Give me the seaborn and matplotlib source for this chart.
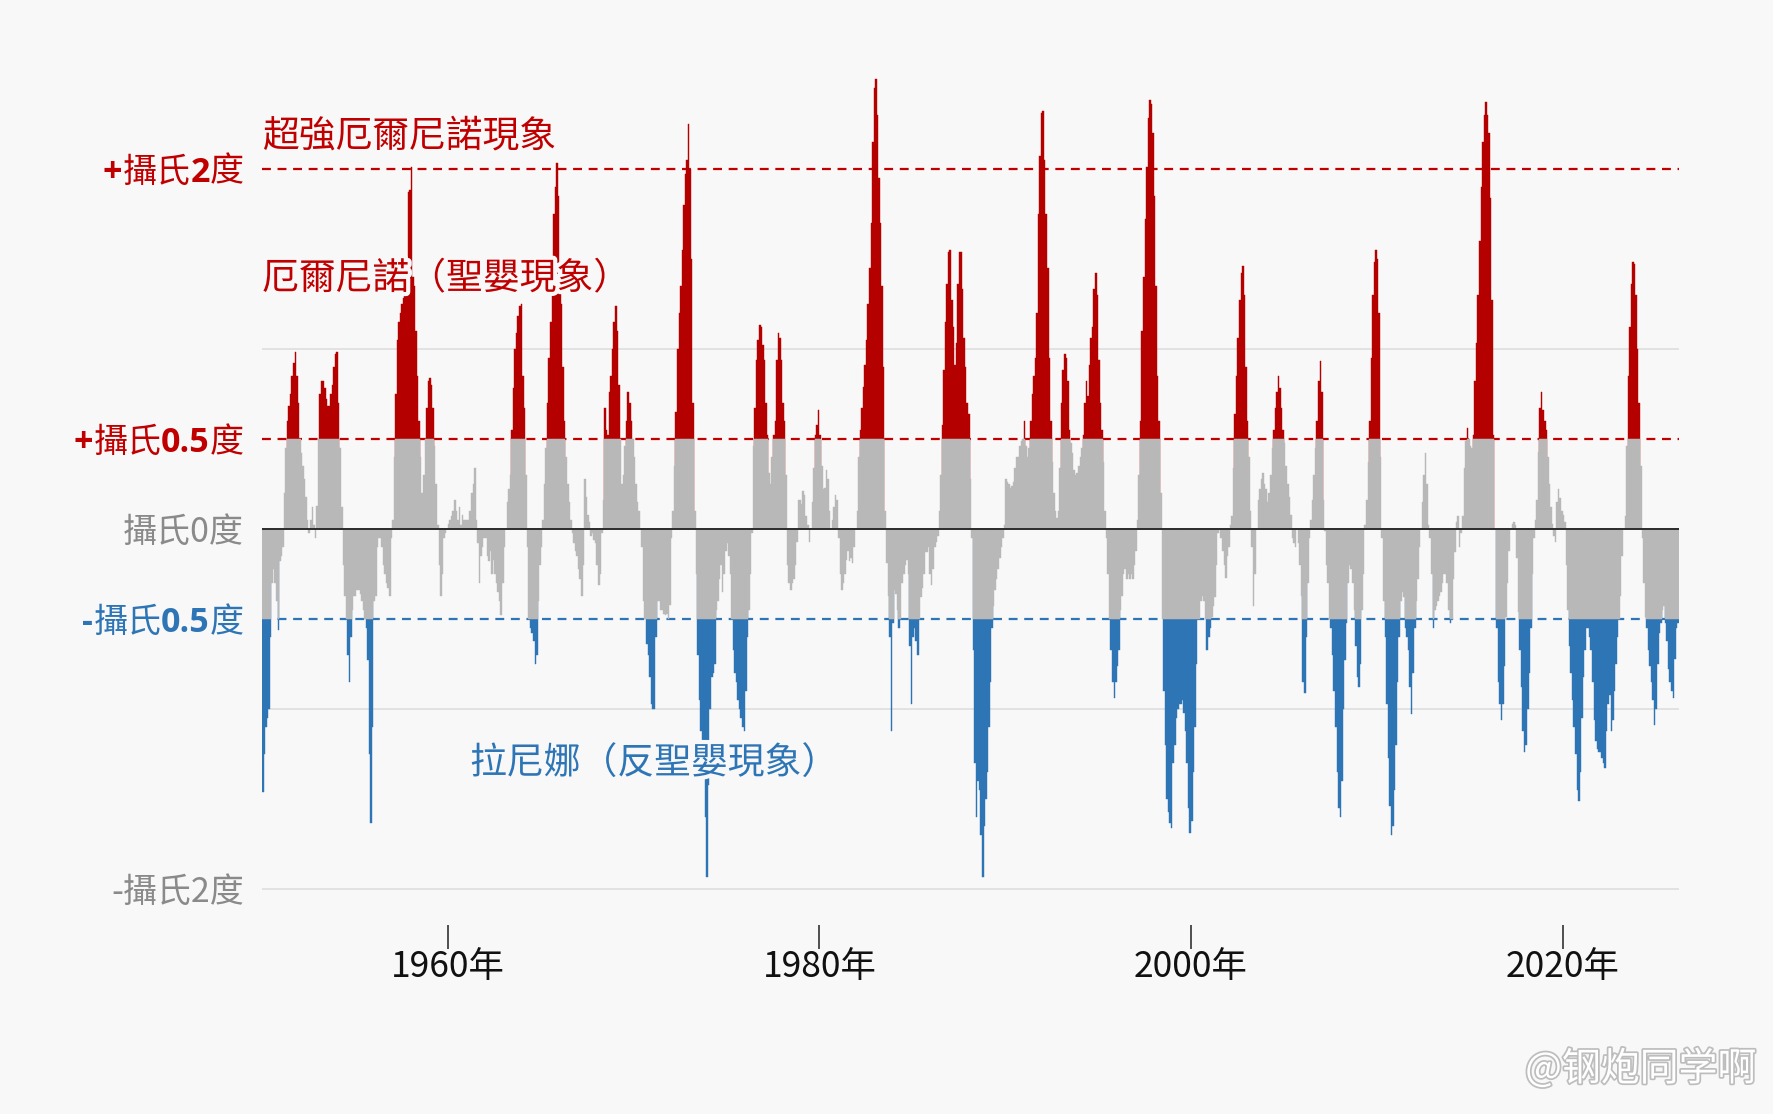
import numpy as np
import pandas as pd
import matplotlib
matplotlib.use("Agg")
import matplotlib.pyplot as plt
import matplotlib.patheffects as pe
import matplotlib.transforms as mtransforms
from matplotlib.offsetbox import TextArea, HPacker, AnnotationBbox
import seaborn as sns

# Monthly Nino 3.4 anomaly (deg C), Jan 1950 .. Mar 2026
start_year = 1950

oni_1950s = [
    -1.46, -1.25, -1.10, -1.05, -1.00, -0.60, -0.30, -0.22, -0.30, -0.40, -0.56, -0.18,  # 1950
    -0.15, -0.10, 0.20, 0.45, 0.60, 0.68, 0.75, 0.85, 0.92, 0.98, 0.85, 0.70,  # 1951
    0.50, 0.42, 0.35, 0.28, 0.18, 0.05, -0.02, 0.05, 0.12, 0.02, -0.05, 0.13,  # 1952
    0.50, 0.75, 0.82, 0.82, 0.78, 0.72, 0.68, 0.68, 0.75, 0.80, 0.90, 0.97,  # 1953
    0.98, 0.70, 0.45, 0.12, -0.20, -0.37, -0.50, -0.70, -0.85, -0.60, -0.45, -0.37,  # 1954
    -0.37, -0.34, -0.34, -0.36, -0.40, -0.45, -0.50, -0.55, -0.73, -1.25, -1.63, -1.10,  # 1955
    -0.40, -0.37, -0.10, -0.05, -0.05, -0.10, -0.20, -0.25, -0.30, -0.33, -0.37, -0.05,  # 1956
    0.05, 0.40, 0.75, 1.05, 1.15, 1.20, 1.25, 1.28, 1.36, 1.42, 1.87, 1.88,  # 1957
    2.01, 1.40, 1.35, 1.10, 0.85, 0.60, 0.40, 0.20, 0.30, 0.50, 0.67, 0.82,  # 1958
    0.84, 0.80, 0.67, 0.46, 0.25, 0.02, -0.20, -0.37, -0.25, -0.05, -0.02, 0.00,  # 1959
]

oni_1960s = [
    0.03, 0.05, 0.07, 0.10, 0.16, 0.10, 0.05, 0.12, 0.02, 0.08, 0.05, 0.05,  # 1960
    0.05, 0.05, 0.10, 0.20, 0.25, 0.34, 0.05, -0.08, -0.30, -0.15, -0.10, -0.05,  # 1961
    -0.05, -0.15, -0.18, -0.12, -0.25, -0.17, -0.25, -0.30, -0.35, -0.40, -0.48, -0.30,  # 1962
    -0.10, 0.00, 0.15, 0.22, 0.30, 0.55, 0.78, 1.00, 1.09, 1.18, 1.24, 1.25,  # 1963
    0.85, 0.67, 0.30, -0.10, -0.50, -0.55, -0.58, -0.62, -0.75, -0.70, -0.40, -0.20,  # 1964
    -0.10, 0.05, 0.25, 0.45, 0.70, 0.95, 1.15, 1.45, 1.75, 1.90, 2.03, 1.85,  # 1965
    1.35, 1.25, 0.90, 0.60, 0.40, 0.25, 0.15, 0.05, -0.02, -0.08, -0.12, -0.15,  # 1966
    -0.22, -0.28, -0.37, -0.20, 0.28, 0.18, 0.08, 0.04, -0.04, -0.02, -0.06, -0.08,  # 1967
    -0.20, -0.31, -0.25, -0.02, 0.16, 0.67, 0.55, 0.52, 0.76, 0.85, 1.00, 1.15,  # 1968
    1.24, 1.10, 0.80, 0.50, 0.25, 0.30, 0.46, 0.60, 0.76, 0.70, 0.60, 0.50,  # 1969
]

oni_1970s = [
    0.40, 0.25, 0.15, 0.10, 0.00, -0.10, -0.40, -0.50, -0.64, -0.70, -0.82, -0.97,  # 1970
    -1.00, -1.00, -0.60, -0.40, -0.40, -0.45, -0.45, -0.47, -0.48, -0.47, -0.50, -0.42,  # 1971
    -0.05, 0.10, 0.35, 0.65, 1.00, 1.20, 1.35, 1.55, 1.80, 1.97, 2.05, 2.25,  # 1972
    2.00, 1.50, 0.70, 0.10, -0.25, -0.70, -0.95, -1.12, -1.20, -1.30, -1.60, -1.93,  # 1973
    -1.42, -1.00, -0.82, -0.80, -0.75, -0.45, -0.40, -0.28, -0.20, -0.35, -0.25, -0.12,  # 1974
    -0.08, -0.15, -0.25, -0.50, -0.67, -0.80, -0.85, -0.95, -1.00, -1.05, -1.10, -1.12,  # 1975
    -0.90, -0.60, -0.45, -0.25, -0.02, 0.46, 0.67, 0.94, 1.05, 1.13, 1.12, 1.02,  # 1976
    0.94, 0.70, 0.52, 0.31, 0.25, 0.40, 0.52, 0.60, 0.94, 1.09, 1.06, 0.94,  # 1977
    0.70, 0.60, 0.30, -0.20, -0.30, -0.34, -0.30, -0.28, -0.20, -0.07, 0.16, 0.16,  # 1978
    0.14, 0.21, 0.19, 0.07, 0.02, -0.07, 0.00, 0.15, 0.34, 0.52, 0.58, 0.66,  # 1979
]

oni_1980s = [
    0.52, 0.35, 0.22, 0.23, 0.33, 0.28, 0.10, 0.00, 0.05, 0.12, 0.19, 0.16,  # 1980
    -0.05, -0.25, -0.34, -0.30, -0.25, -0.17, -0.12, -0.18, -0.16, -0.19, -0.10, 0.00,  # 1981
    0.10, 0.40, 0.55, 0.67, 0.79, 0.91, 1.05, 1.25, 1.45, 1.70, 2.15, 2.45,  # 1982
    2.50, 2.30, 1.95, 1.70, 1.35, 0.90, 0.10, -0.19, -0.37, -0.60, -1.12, -0.52,  # 1983
    -0.34, -0.36, -0.45, -0.55, -0.50, -0.30, -0.25, -0.20, -0.17, -0.25, -0.65, -0.97,  # 1984
    -0.60, -0.55, -0.62, -0.70, -0.50, -0.38, -0.33, -0.25, -0.13, -0.13, -0.10, -0.25,  # 1985
    -0.31, -0.22, -0.10, -0.07, -0.04, 0.10, 0.30, 0.58, 0.88, 1.15, 1.36, 1.54,  # 1986
    1.55, 1.27, 1.12, 0.91, 1.03, 1.36, 1.54, 1.54, 1.33, 1.06, 0.90, 0.70,  # 1987
    0.64, 0.28, -0.05, -0.67, -1.30, -1.60, -1.40, -1.45, -1.70, -1.93, -1.65, -1.50,  # 1988
    -1.35, -1.10, -0.85, -0.55, -0.43, -0.34, -0.28, -0.22, -0.16, -0.10, -0.05, 0.02,  # 1989
]

oni_1990s = [
    0.28, 0.26, 0.25, 0.23, 0.24, 0.26, 0.34, 0.40, 0.40, 0.46, 0.49, 0.50,  # 1990
    0.60, 0.46, 0.40, 0.45, 0.60, 0.75, 0.85, 0.95, 1.20, 1.75, 2.07, 2.31,  # 1991
    2.32, 2.05, 1.75, 1.45, 0.95, 0.60, 0.37, 0.20, 0.10, 0.06, 0.10, 0.34,  # 1992
    0.70, 0.88, 0.97, 0.95, 0.82, 0.55, 0.48, 0.42, 0.33, 0.30, 0.31, 0.35,  # 1993
    0.40, 0.45, 0.52, 0.70, 0.82, 0.74, 0.91, 1.06, 1.12, 1.33, 1.42, 1.30,  # 1994
    0.94, 0.70, 0.55, 0.37, 0.10, -0.05, -0.25, -0.50, -0.67, -0.85, -0.94, -0.85,  # 1995
    -0.76, -0.67, -0.45, -0.37, -0.25, -0.22, -0.28, -0.25, -0.28, -0.25, -0.28, -0.20,  # 1996
    -0.12, 0.05, 0.30, 0.60, 1.10, 1.40, 1.72, 2.01, 2.28, 2.38, 2.36, 2.20,  # 1997
    1.85, 1.35, 0.85, 0.60, 0.20, -0.50, -0.90, -1.20, -1.50, -1.57, -1.63, -1.66,  # 1998
    -1.30, -1.20, -1.05, -1.00, -0.97, -0.97, -0.95, -1.02, -1.12, -1.30, -1.55, -1.69,  # 1999
]

oni_2000s = [
    -1.62, -1.35, -1.10, -0.75, -0.50, -0.50, -0.40, -0.37, -0.40, -0.50, -0.67, -0.60,  # 2000
    -0.55, -0.49, -0.43, -0.38, -0.20, -0.02, 0.00, -0.05, -0.12, -0.20, -0.27, -0.15,  # 2001
    -0.10, 0.02, 0.07, 0.34, 0.64, 0.85, 1.06, 1.27, 1.42, 1.46, 1.30, 0.90,  # 2002
    0.60, 0.40, 0.10, -0.10, -0.43, -0.25, 0.00, 0.16, 0.22, 0.28, 0.31, 0.25,  # 2003
    0.22, 0.15, 0.20, 0.30, 0.45, 0.55, 0.67, 0.76, 0.85, 0.78, 0.67, 0.55,  # 2004
    0.48, 0.35, 0.25, 0.18, 0.08, -0.05, -0.08, -0.10, 0.00, -0.08, -0.20, -0.37,  # 2005
    -0.85, -0.91, -0.60, -0.30, -0.05, 0.05, 0.16, 0.30, 0.45, 0.60, 0.82, 0.93,  # 2006
    0.76, 0.16, -0.01, -0.20, -0.30, -0.50, -0.55, -0.70, -0.90, -1.10, -1.35, -1.55,  # 2007
    -1.60, -1.40, -1.00, -0.73, -0.52, -0.30, -0.20, -0.22, -0.30, -0.45, -0.65, -0.82,  # 2008
    -0.88, -0.75, -0.45, -0.25, 0.02, 0.16, 0.37, 0.60, 0.95, 1.30, 1.48, 1.55,  # 2009
]

oni_2010s = [
    1.50, 1.20, 0.40, -0.05, -0.40, -0.60, -0.97, -1.27, -1.54, -1.70, -1.65, -1.45,  # 2010
    -1.20, -0.85, -0.60, -0.40, -0.35, -0.38, -0.55, -0.60, -0.67, -0.88, -1.03, -0.80,  # 2011
    -0.55, -0.40, -0.28, -0.10, 0.00, 0.15, 0.30, 0.42, 0.25, 0.02, -0.05, -0.25,  # 2012
    -0.55, -0.45, -0.43, -0.40, -0.37, -0.35, -0.30, -0.25, -0.25, -0.30, -0.45, -0.52,  # 2013
    -0.50, -0.28, -0.13, 0.04, 0.07, -0.10, -0.02, 0.07, 0.34, 0.49, 0.56, 0.50,  # 2014
    0.46, 0.45, 0.52, 0.82, 1.03, 1.30, 1.60, 1.90, 2.15, 2.30, 2.37, 2.30,  # 2015
    2.20, 1.84, 1.27, 0.52, 0.00, -0.55, -0.85, -0.97, -1.06, -0.97, -0.76, -0.49,  # 2016
    -0.30, -0.12, 0.00, 0.03, 0.04, 0.02, -0.16, -0.46, -0.67, -0.88, -1.12, -1.24,  # 2017
    -1.20, -1.00, -0.80, -0.55, -0.25, -0.05, 0.05, 0.16, 0.43, 0.67, 0.76, 0.66,  # 2018
    0.60, 0.55, 0.40, 0.25, 0.12, 0.03, -0.04, -0.07, 0.15, 0.22, 0.17, 0.10,  # 2019
]

oni_2020s = [
    0.08, 0.04, -0.20, -0.45, -0.65, -0.80, -0.95, -1.10, -1.25, -1.45, -1.51, -1.35,  # 2020
    -1.05, -0.82, -0.67, -0.55, -0.55, -0.60, -0.67, -0.85, -1.06, -1.18, -1.22, -1.24,  # 2021
    -1.24, -1.27, -1.30, -1.33, -1.12, -0.97, -0.92, -1.12, -1.06, -0.90, -0.75, -0.60,  # 2022
    -0.50, -0.37, -0.15, 0.00, 0.07, 0.46, 0.85, 1.12, 1.36, 1.48, 1.47, 1.30,  # 2023
    1.00, 0.70, 0.35, -0.05, -0.30, -0.49, -0.55, -0.67, -0.76, -0.85, -0.95, -1.09,  # 2024
    -1.00, -0.75, -0.58, -0.52, -0.45, -0.43, -0.52, -0.62, -0.78, -0.85, -0.90, -0.94,  # 2025
    -0.72, -0.55, -0.52,  # 2026
]

y_ticks = [2, 0.5, 0, -0.5, -2]
# label pieces: (text, bold)
y_label_parts = [
    [('+', True), ('攝氏', False), ('2', True), ('度', False)],
    [('+', True), ('攝氏', False), ('0.5', True), ('度', False)],
    [('攝氏0度', False)],
    [('-', True), ('攝氏', False), ('0.5', True), ('度', False)],
    [('-攝氏2度', False)],
]
x_ticks = [1960, 1980, 2000, 2020]
x_labels = ['1960年', '1980年', '2000年', '2020年']

RED = '#b50000'
LINE_RED = '#c00000'
BLUE = '#2e75b6'
GRAY = '#b8b8b8'
BG = '#f8f8f8'

sns.set_theme(style='white')
plt.rcParams['font.family'] = ['Noto Sans CJK TC', 'DejaVu Sans']

anom = np.array(oni_1950s + oni_1960s + oni_1970s + oni_1980s +
                oni_1990s + oni_2000s + oni_2010s + oni_2020s)
df = pd.DataFrame({'t': start_year + (np.arange(len(anom)) + 0.5) / 12, 'anom': anom})
df['warm'] = df['anom'].where(df['anom'] > 0.5, 0)
df['cold'] = df['anom'].where(df['anom'] < -0.5, 0)
df['core'] = df['anom'].clip(-0.5, 0.5)

fig = plt.figure(figsize=(17.74, 11.14), dpi=100, facecolor=BG)
ax = fig.add_axes([0.1477, 0.1695, 0.7988, 0.776])
ax.set_facecolor(BG)

# grid + threshold lines below the bars
for g in [1, -1, -2]:
    ax.axhline(g, color='#dcdcdc', lw=1.1, zorder=0)
ax.axhline(2, color=LINE_RED, lw=1.6, ls=(0, (4, 3)), zorder=0.5)
ax.axhline(0.5, color=LINE_RED, lw=1.6, ls=(0, (4, 3)), zorder=0.5)
ax.axhline(-0.5, color=BLUE, lw=1.6, ls=(0, (4, 3)), zorder=0.5)

for col, c in [('warm', RED), ('cold', BLUE), ('core', GRAY)]:
    sns.barplot(data=df, x='t', y=col, native_scale=True, color=c, saturation=1,
                width=1, errorbar=None, edgecolor=c, linewidth=0.3, ax=ax)

ax.axhline(0, color='#222222', lw=1.3, zorder=4)

ax.set_xlim(1950, 2026.27)
ax.set_ylim(-2.2, 2.6)
ax.set_xlabel('')
ax.set_ylabel('')
for s in ax.spines.values():
    s.set_visible(False)

ax.set_xticks(x_ticks, x_labels)
ax.tick_params(axis='x', length=17, width=1.2, color='#333333', pad=0.5,
               labelsize=25.5, labelcolor='#111111', bottom=True, direction='out')

# y labels: bold sign/number, regular CJK, packed on one baseline
ax.set_yticks([])
label_colors = [LINE_RED, LINE_RED, '#8a8a8a', BLUE, '#8a8a8a']
trans = mtransforms.blended_transform_factory(ax.transAxes, ax.transData)
for yv, parts, c in zip(y_ticks, y_label_parts, label_colors):
    boxes = []
    for txt, bold in parts:
        props = dict(color=c, fontsize=24.5)
        if bold:
            props.update(fontweight='bold', family=['Open Sans', 'Noto Sans CJK TC'])
        else:
            props.update(family=['Noto Sans CJK TC', 'DejaVu Sans'])
        boxes.append(TextArea(txt, textprops=props))
    pack = HPacker(children=boxes, align='baseline', pad=0, sep=0)
    ab = AnnotationBbox(pack, (0, yv), xycoords=trans, xybox=(-13, -2.5),
                        boxcoords='offset points', box_alignment=(1, 0.5),
                        frameon=False, pad=0, annotation_clip=False)
    ax.add_artist(ab)

halo = [pe.withStroke(linewidth=6, foreground=BG)]
ax.text(1950.0, 2.18, '超強厄爾尼諾現象', color=LINE_RED, fontsize=26.5,
        ha='left', va='center', zorder=6)
ax.text(1950.0, 1.39, '厄爾尼諾（聖嬰現象）', color=LINE_RED, fontsize=26.5,
        ha='left', va='center', zorder=6, path_effects=halo)
ax.text(1961.2, -1.30, '拉尼娜（反聖嬰現象）', color=BLUE, fontsize=26.5,
        ha='left', va='center', zorder=6, path_effects=halo)

fig.text(0.99, 0.04, '@钢炮同学啊', fontsize=28, color='white', ha='right', va='center',
         family=['Noto Sans CJK SC', 'DejaVu Sans'],
         path_effects=[pe.withStroke(linewidth=2.5, foreground='#bdbdbd')])

fig.savefig('out.png', dpi=100, facecolor=BG)
